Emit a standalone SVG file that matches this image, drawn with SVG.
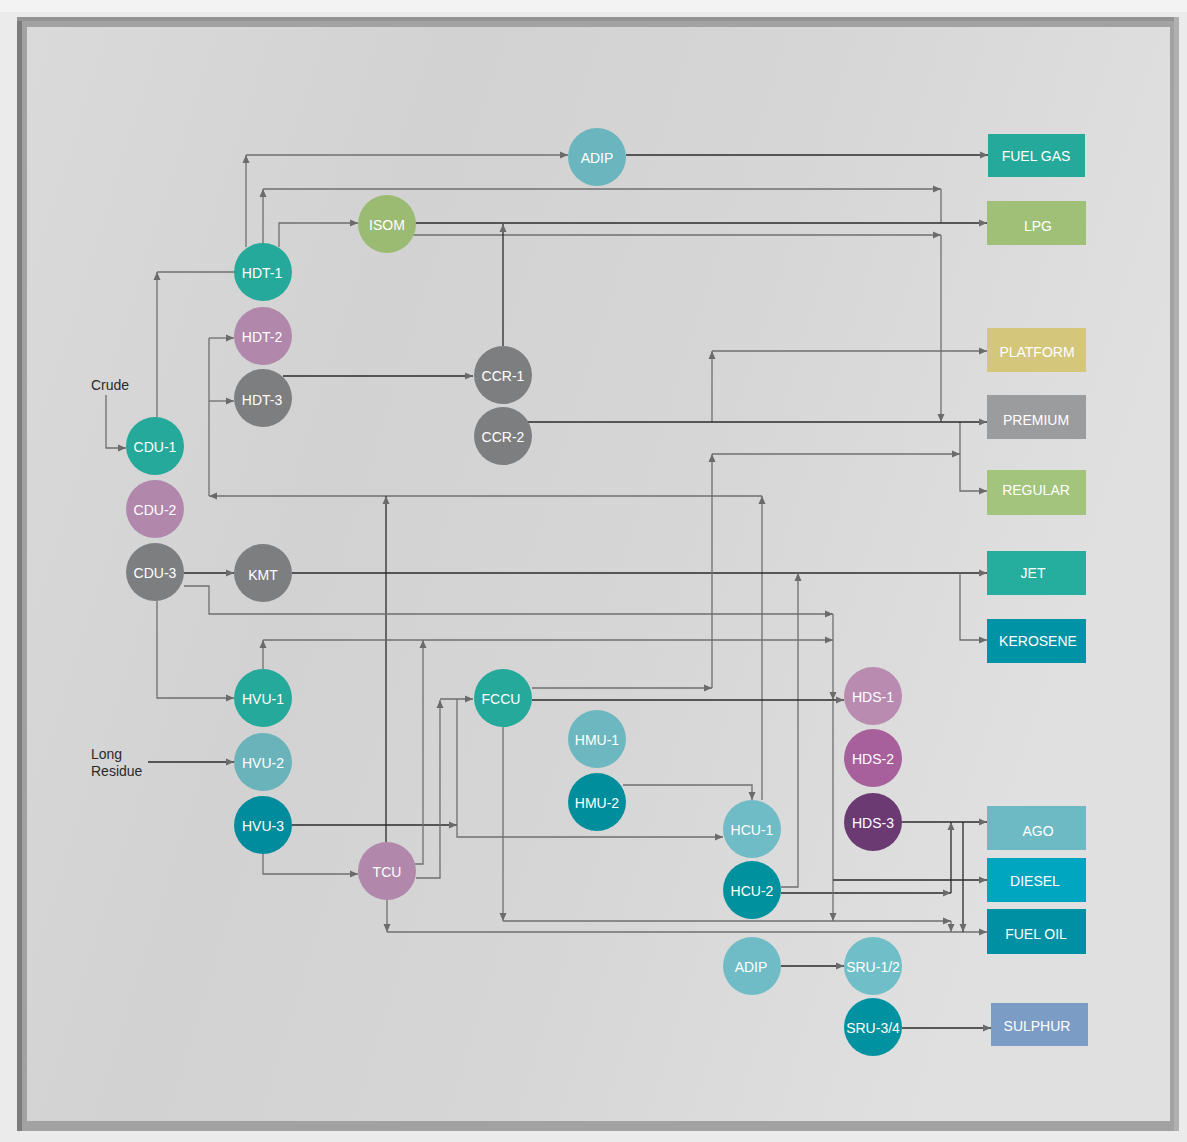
<svg xmlns="http://www.w3.org/2000/svg" width="1187" height="1142" viewBox="0 0 1187 1142">
<defs>
<linearGradient id="bgIn" x1="0" y1="0" x2="1" y2="0.3">
<stop offset="0" stop-color="#dadada"/>
<stop offset="0.35" stop-color="#d2d2d2"/>
<stop offset="0.65" stop-color="#d6d6d6"/>
<stop offset="1" stop-color="#e0e0e0"/>
</linearGradient>
<marker id="ah" markerWidth="8" markerHeight="8" refX="8" refY="4" orient="auto" markerUnits="userSpaceOnUse">
<path d="M0,0.5 L8,4 L0,7.5 z" fill="#6b6b6b"/>
</marker>
<style>
.c path{fill:none;stroke-width:1.3}
.g{stroke:#6f6f6f}
.d{stroke:#2b2b2b}
.a{marker-end:url(#ah)}
.n text{font-family:"Liberation Sans",Arial,sans-serif;font-size:14px;fill:#ffffff;text-anchor:middle}
.lbl{font-family:"Liberation Sans",Arial,sans-serif;font-size:14px;fill:#2a2a2a}
</style>
</defs>
<rect x="0" y="0" width="1187" height="1142" fill="#ebebeb"/>
<rect x="0" y="0" width="1187" height="12" fill="#f3f3f3"/>
<rect x="17" y="17" width="1162" height="1114" fill="#a2a2a2"/>
<rect x="17" y="17" width="5" height="1114" fill="#7c7c7c"/>
<rect x="17" y="17" width="1162" height="4" fill="#939393"/>
<rect x="1174" y="17" width="5" height="1114" fill="#b0b0b0"/>
<rect x="27" y="27" width="1143" height="1094" fill="url(#bgIn)"/>

<text class="lbl" x="91" y="390">Crude</text>
<text class="lbl" x="91" y="759">Long</text>
<text class="lbl" x="91" y="776">Residue</text>

<g id="connectors" class="c">
<path class="g a" d="M106,395 V448 H126"/>
<path class="g a" d="M157,417 V272"/>
<path class="g" d="M157,272 H234"/>
<path class="g a" d="M246,247 V155"/>
<path class="g a" d="M246,155 H568"/>
<path class="d a" d="M626,155 H988"/>
<path class="g a" d="M263,243 V189"/>
<path class="g a" d="M263,189 H941"/>
<path class="g" d="M941,189 V223"/>
<path class="g a" d="M279,247 V223 H358"/>
<path class="d a" d="M415,223 H987"/>
<path class="g a" d="M413,235 H941"/>
<path class="g a" d="M941,235 V422"/>
<path class="d a" d="M503,346 V224"/>
<path class="d a" d="M283,376 H473"/>
<path class="g a" d="M762,800 V496"/>
<path class="g a" d="M762,496 H209"/>
<path class="g" d="M209,496 V338"/>
<path class="g a" d="M209,338 H234"/>
<path class="g a" d="M209,401 H234"/>
<path class="d a" d="M386,842 V496"/>
<path class="d a" d="M184,573 H234"/>
<path class="d a" d="M292,573 H987"/>
<path class="g a" d="M960,573 V640 H987"/>
<path class="g a" d="M781,887 H798 V573"/>
<path class="g a" d="M184,586 H209 V614 H833"/>
<path class="g a" d="M833,614 V700"/>
<path class="g a" d="M263,669 V640"/>
<path class="g a" d="M263,640 H833"/>
<path class="g a" d="M157,601 V698 H234"/>
<path class="d a" d="M148,762 H234"/>
<path class="d a" d="M292,825 H457"/>
<path class="g a" d="M416,878 H440 V700"/>
<path class="g a" d="M440,699 H473"/>
<path class="g a" d="M457,699 V837 H723"/>
<path class="g a" d="M415,864 H423 V640"/>
<path class="g a" d="M387,900 V932"/>
<path class="g a" d="M387,932 H987"/>
<path class="g a" d="M263,853 V874 H358"/>
<path class="g a" d="M503,727 V921"/>
<path class="g a" d="M503,921 H951"/>
<path class="g a" d="M951,921 V932"/>
<path class="g a" d="M532,688 H712"/>
<path class="g a" d="M712,688 V454"/>
<path class="g a" d="M712,454 H960"/>
<path class="g a" d="M712,422 V351"/>
<path class="g a" d="M712,351 H987"/>
<path class="g a" d="M960,422 V491 H987"/>
<path class="d a" d="M528,422 H987"/>
<path class="d a" d="M532,700 H844"/>
<path class="g a" d="M623,785 H752 V800"/>
<path class="d a" d="M781,893 H951"/>
<path class="d a" d="M951,893 V822"/>
<path class="d a" d="M902,822 H987"/>
<path class="d a" d="M963,822 V932"/>
<path class="g a" d="M833,700 V921"/>
<path class="d a" d="M833,880 H987"/>
<path class="d a" d="M781,966 H844"/>
<path class="d a" d="M902,1028 H991"/>
</g>

<g id="n-adip1" class="n"><circle cx="597" cy="157" r="29" fill="#6bb5be"/><text x="597" y="163">ADIP</text></g>
<g id="n-isom" class="n"><circle cx="387" cy="224" r="29" fill="#9bbb72"/><text x="387" y="230">ISOM</text></g>
<g id="n-hdt1" class="n"><circle cx="263" cy="272" r="29" fill="#25a99a"/><text x="262" y="278">HDT-1</text></g>
<g id="n-hdt2" class="n"><circle cx="263" cy="336" r="29" fill="#b187ab"/><text x="262" y="342">HDT-2</text></g>
<g id="n-hdt3" class="n"><circle cx="263" cy="398" r="29" fill="#7d7e80"/><text x="262" y="405">HDT-3</text></g>
<g id="n-ccr1" class="n"><circle cx="503" cy="375" r="29" fill="#7d7e80"/><text x="503" y="381">CCR-1</text></g>
<g id="n-ccr2" class="n"><circle cx="503" cy="436" r="29" fill="#7d7e80"/><text x="503" y="442">CCR-2</text></g>
<g id="n-cdu1" class="n"><circle cx="155" cy="446" r="29" fill="#25a99a"/><text x="155" y="452">CDU-1</text></g>
<g id="n-cdu2" class="n"><circle cx="155" cy="509" r="29" fill="#b187ab"/><text x="155" y="515">CDU-2</text></g>
<g id="n-cdu3" class="n"><circle cx="155" cy="572" r="29" fill="#7d7e80"/><text x="155" y="578">CDU-3</text></g>
<g id="n-kmt" class="n"><circle cx="263" cy="573" r="29" fill="#7d7e80"/><text x="263" y="580">KMT</text></g>
<g id="n-hvu1" class="n"><circle cx="263" cy="698" r="29" fill="#25a99a"/><text x="263" y="704">HVU-1</text></g>
<g id="n-hvu2" class="n"><circle cx="263" cy="762" r="29" fill="#6ab3bb"/><text x="263" y="768">HVU-2</text></g>
<g id="n-hvu3" class="n"><circle cx="263" cy="825" r="29" fill="#008c9c"/><text x="263" y="831">HVU-3</text></g>
<g id="n-tcu" class="n"><circle cx="387" cy="871" r="29" fill="#b187ab"/><text x="387" y="877">TCU</text></g>
<g id="n-fccu" class="n"><circle cx="503" cy="698" r="29" fill="#25a99a"/><text x="501" y="704">FCCU</text></g>
<g id="n-hmu1" class="n"><circle cx="597" cy="739" r="29" fill="#6cb7c0"/><text x="597" y="745">HMU-1</text></g>
<g id="n-hmu2" class="n"><circle cx="597" cy="802" r="29" fill="#008e9d"/><text x="597" y="808">HMU-2</text></g>
<g id="n-hcu1" class="n"><circle cx="752" cy="829" r="29" fill="#6fbcc6"/><text x="752" y="835">HCU-1</text></g>
<g id="n-hcu2" class="n"><circle cx="752" cy="890" r="29" fill="#00919f"/><text x="752" y="896">HCU-2</text></g>
<g id="n-adip2" class="n"><circle cx="752" cy="966" r="29" fill="#6fbcc6"/><text x="751" y="972">ADIP</text></g>
<g id="n-sru12" class="n"><circle cx="873" cy="966" r="29" fill="#6fbec8"/><text x="873" y="972">SRU-1/2</text></g>
<g id="n-sru34" class="n"><circle cx="873" cy="1027" r="29" fill="#0092a1"/><text x="873" y="1033">SRU-3/4</text></g>
<g id="n-hds1" class="n"><circle cx="873" cy="696" r="29" fill="#b98bb0"/><text x="873" y="702">HDS-1</text></g>
<g id="n-hds2" class="n"><circle cx="873" cy="758" r="29" fill="#a7609b"/><text x="873" y="764">HDS-2</text></g>
<g id="n-hds3" class="n"><circle cx="873" cy="822" r="29" fill="#6b3a73"/><text x="873" y="828">HDS-3</text></g>

<g id="p-fuelgas" class="n"><rect x="988" y="134" width="97" height="43" fill="#25a99a"/><text x="1036" y="161">FUEL GAS</text></g>
<g id="p-lpg" class="n"><rect x="987" y="201" width="99" height="44" fill="#a0c078"/><text x="1038" y="231">LPG</text></g>
<g id="p-platform" class="n"><rect x="987" y="328" width="99" height="44" fill="#d4c67a"/><text x="1037" y="357">PLATFORM</text></g>
<g id="p-premium" class="n"><rect x="987" y="395" width="99" height="44" fill="#9b9c9e"/><text x="1036" y="425">PREMIUM</text></g>
<g id="p-regular" class="n"><rect x="987" y="470" width="99" height="45" fill="#a3c47c"/><text x="1036" y="495">REGULAR</text></g>
<g id="p-jet" class="n"><rect x="987" y="551" width="99" height="44" fill="#25ad9d"/><text x="1033" y="578">JET</text></g>
<g id="p-kerosene" class="n"><rect x="987" y="619" width="99" height="44" fill="#0093a5"/><text x="1038" y="646">KEROSENE</text></g>
<g id="p-ago" class="n"><rect x="987" y="806" width="99" height="44" fill="#6dbac4"/><text x="1038" y="836">AGO</text></g>
<g id="p-diesel" class="n"><rect x="987" y="858" width="99" height="44" fill="#00a5bf"/><text x="1035" y="886">DIESEL</text></g>
<g id="p-fueloil" class="n"><rect x="987" y="909" width="99" height="45" fill="#0090a3"/><text x="1036" y="939">FUEL OIL</text></g>
<g id="p-sulphur" class="n"><rect x="991" y="1003" width="97" height="43" fill="#7b9cc4"/><text x="1037" y="1031">SULPHUR</text></g>
</svg>
